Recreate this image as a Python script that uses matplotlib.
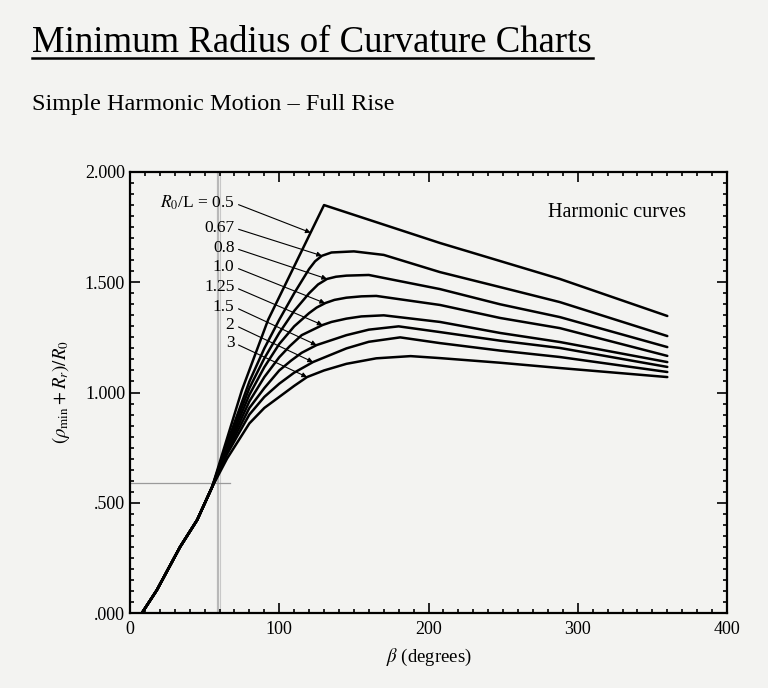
import numpy as np
import matplotlib
matplotlib.use("Agg")
import matplotlib.pyplot as plt
from matplotlib.ticker import MultipleLocator, FuncFormatter
from matplotlib.lines import Line2D

plt.rcParams['font.family'] = ['Liberation Serif', 'DejaVu Serif']
plt.rcParams['mathtext.fontset'] = 'stix'

PAPER = '#f3f3f1'

# shared start of every curve (beta in degrees, value)
base_beta = [8, 18, 33.5, 45, 55]
base_val = [0.0, 0.104, 0.299, 0.422, 0.571]

RATIOS = ["0.5", "0.67", "0.8", "1.0", "1.25", "1.5", "2", "3"]

beta_05 = [75, 92.5, 130, 207.7, 288, 360]
val_05 = [1.011, 1.329, 1.85, 1.678, 1.515, 1.347]

beta_067 = [65, 80, 90, 100, 110, 120, 124, 128.6, 135, 150, 170, 207.7, 248, 288, 360]
val_067 = [0.77, 1.05, 1.20, 1.33, 1.45, 1.56, 1.595, 1.62, 1.635, 1.64, 1.624, 1.546, 1.478, 1.41, 1.256]

beta_08 = [65, 80, 90, 100, 110, 120, 126, 132, 138, 145, 160, 207.7, 248, 288, 360]
val_08 = [0.76, 1.02, 1.155, 1.27, 1.37, 1.45, 1.49, 1.515, 1.525, 1.53, 1.533, 1.469, 1.40, 1.342, 1.206]

beta_10 = [65, 80, 90, 100, 110, 120, 125, 131, 137, 145, 155, 165, 207.7, 248, 288, 360]
val_10 = [0.75, 0.99, 1.115, 1.22, 1.30, 1.36, 1.385, 1.406, 1.42, 1.43, 1.436, 1.438, 1.397, 1.338, 1.292, 1.166]

beta_125 = [65, 80, 90, 100, 107, 115, 129, 135, 145, 155, 170, 207.7, 248, 288, 360]
val_125 = [0.74, 0.96, 1.07, 1.16, 1.21, 1.26, 1.306, 1.32, 1.335, 1.345, 1.35, 1.32, 1.27, 1.229, 1.138]

beta_15 = [65, 80, 90, 100, 108, 115, 125, 145, 160, 180, 207.7, 248, 288, 360]
val_15 = [0.73, 0.93, 1.02, 1.10, 1.145, 1.18, 1.215, 1.26, 1.285, 1.30, 1.274, 1.235, 1.202, 1.116]

beta_2 = [65, 80, 90, 100, 110, 122.6, 145, 160, 181, 207.7, 248, 288, 360]
val_2 = [0.72, 0.90, 0.98, 1.04, 1.09, 1.138, 1.20, 1.23, 1.25, 1.224, 1.19, 1.161, 1.093]

beta_3 = [65, 80, 90, 100, 110, 118.6, 130, 145, 165, 188, 207.7, 248, 288, 360]
val_3 = [0.70, 0.86, 0.93, 0.98, 1.03, 1.07, 1.10, 1.13, 1.155, 1.165, 1.156, 1.135, 1.111, 1.070]

curves = [(beta_05, val_05), (beta_067, val_067), (beta_08, val_08), (beta_10, val_10),
          (beta_125, val_125), (beta_15, val_15), (beta_2, val_2), (beta_3, val_3)]

# label anchor (right end) and the beta where each arrow meets its curve
label_beta = 70
label_val = [1.859, 1.746, 1.655, 1.569, 1.478, 1.388, 1.306, 1.224]
tip_beta = [121, 128.6, 132, 130.7, 129, 125, 122.6, 118.6]

# pencil construction marks on the scan
pencil_beta = 59
pencil_val = 0.59

fig = plt.figure(figsize=(7.68, 6.88), dpi=100, facecolor=PAPER)
ax = fig.add_axes([130 / 768, 1 - 613 / 688, 597 / 768, 441 / 688])
ax.set_facecolor(PAPER)

ax.axvline(pencil_beta, color='#b8b8b8', lw=1.6, zorder=1)
ax.axvline(pencil_beta + 1.2, color='#c8c8c8', lw=0.8, zorder=1)
ax.plot([0, pencil_beta + 8], [pencil_val, pencil_val], color='#9a9a9a', lw=0.9, zorder=1)

for i, (b, v) in enumerate(curves):
    x = np.array(base_beta + b)
    y = np.array(base_val + v)
    ax.plot(x, y, color='black', lw=1.8, solid_joinstyle='round', solid_capstyle='round', zorder=3)
    tip = (tip_beta[i], np.interp(tip_beta[i], x, y))
    txt = r"$R_0$/L = " + RATIOS[i] if i == 0 else RATIOS[i]
    ax.annotate(txt, xy=tip, xytext=(label_beta, label_val[i]),
                ha='right', va='center', fontsize=12.5,
                arrowprops=dict(arrowstyle='-|>', color='black', lw=0.8,
                                mutation_scale=7, shrinkA=1, shrinkB=0,
                                relpos=(1, 0.5)),
                zorder=4)

ax.text(280, 1.815, "Harmonic curves", fontsize=14.5, ha='left', va='center')

ax.set_xlim(0, 400)
ax.set_ylim(0, 2)
ax.xaxis.set_major_locator(MultipleLocator(100))
ax.xaxis.set_minor_locator(MultipleLocator(10))
ax.yaxis.set_major_locator(MultipleLocator(0.5))
ax.yaxis.set_minor_locator(MultipleLocator(0.05))
ax.yaxis.set_major_formatter(FuncFormatter(lambda v, p: f"{v:.3f}".lstrip('0') if v < 1 else f"{v:.3f}"))
ax.tick_params(which='both', direction='in', top=True, right=True, labelsize=13, width=1.2)
ax.tick_params(which='major', length=7)
ax.tick_params(which='minor', length=3)
ax.tick_params(axis='x', pad=6)
for s in ax.spines.values():
    s.set_linewidth(1.6)

ax.set_xlabel(r"$\beta$ (degrees)", fontsize=13.5, labelpad=6)
ax.set_ylabel(r"$(\rho_{\min} + R_r)/R_0$", fontsize=13.5, labelpad=9)

fig.text(32 / 768, 1 - 52 / 688, "Minimum Radius of Curvature Charts", fontsize=26.5, ha='left', va='baseline')
fig.add_artist(Line2D([32 / 768, 593 / 768], [1 - 58 / 688, 1 - 58 / 688], color='black', lw=1.8))
fig.text(32 / 768, 1 - 110 / 688, "Simple Harmonic Motion \u2013 Full Rise", fontsize=17.5, ha='left', va='baseline')

fig.savefig("out.png", dpi=100, facecolor=PAPER)
